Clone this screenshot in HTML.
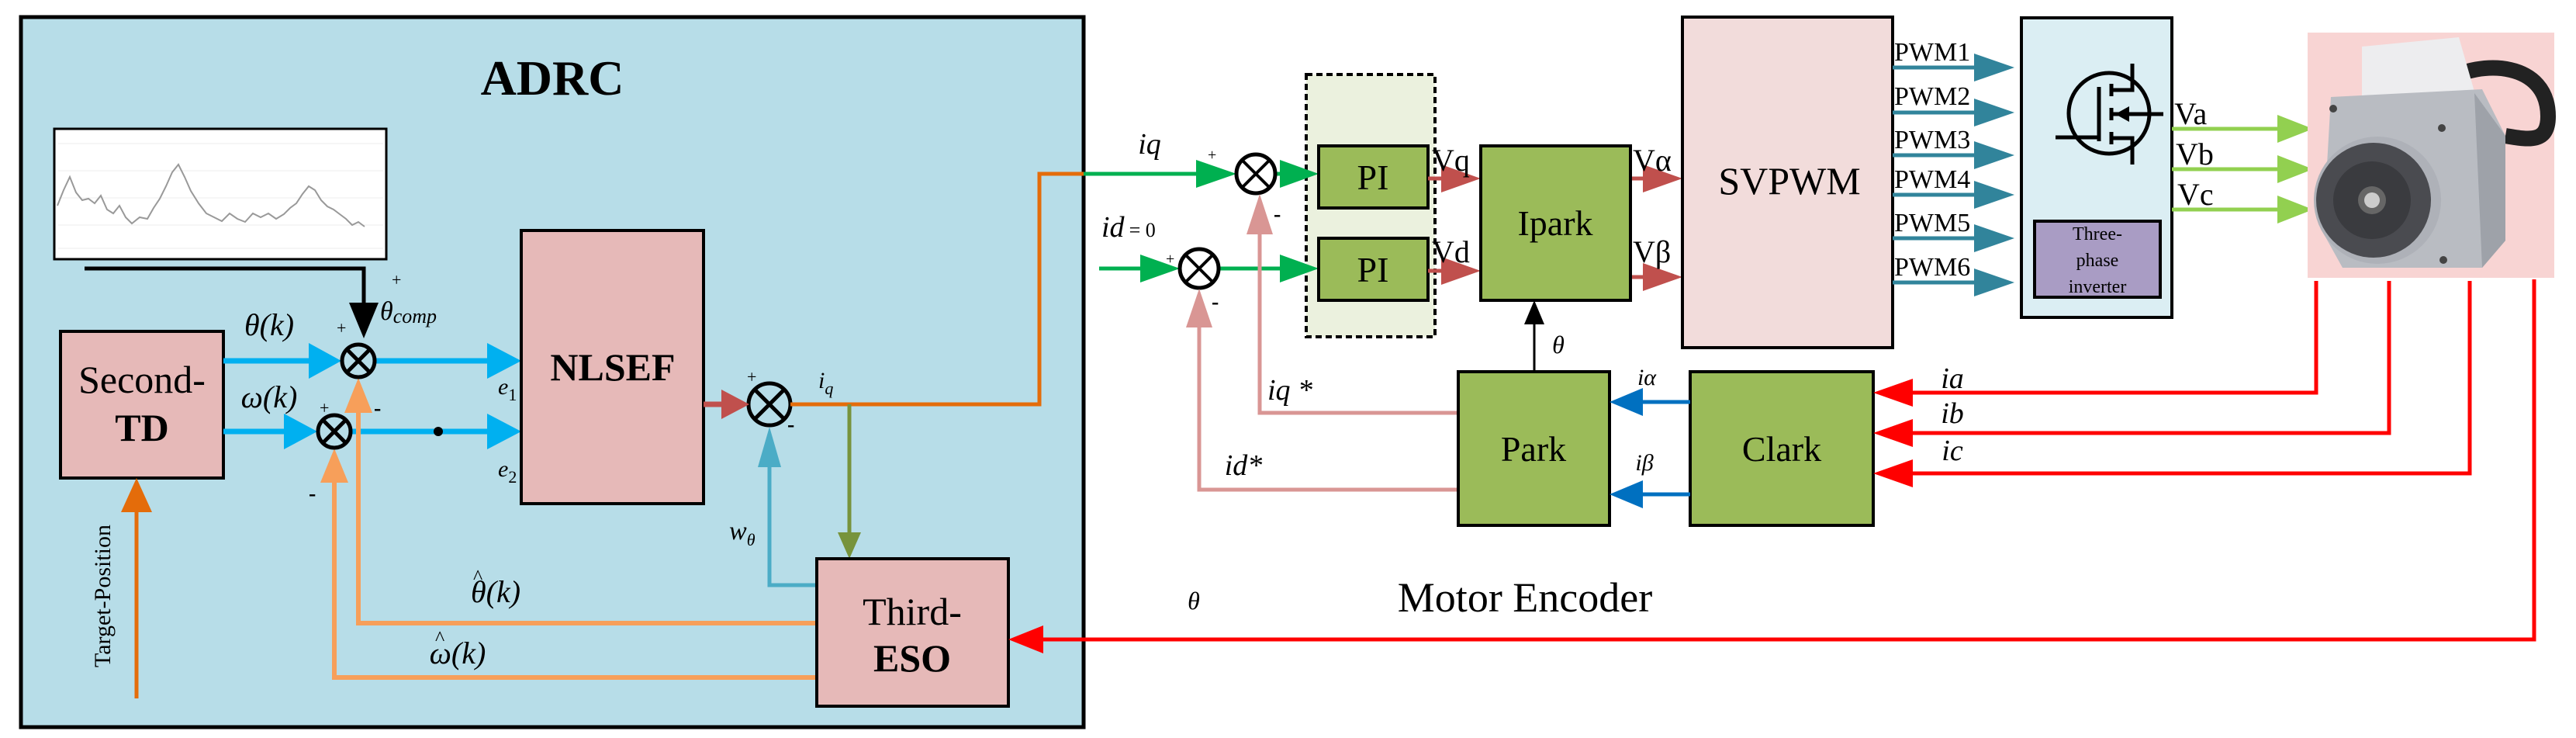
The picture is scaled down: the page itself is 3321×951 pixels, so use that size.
<!DOCTYPE html>
<html><head><meta charset="utf-8"><style>
html,body{margin:0;padding:0;background:#fff}
svg{display:block}
svg text{font-family:"Liberation Serif","DejaVu Serif","Times New Roman",Times,serif;fill:#000}
.i{font-style:italic}
</style></head><body>
<svg width="3321" height="951" viewBox="0 0 3321 951" xmlns="http://www.w3.org/2000/svg" style="font-family:'Liberation Serif','DejaVu Serif',serif">
<rect x="27" y="22" width="1370" height="915" fill="#b7dde8" stroke="#000" stroke-width="5"/>
<text x="712" y="122" font-size="64" font-weight="bold" text-anchor="middle">ADRC</text>
<rect x="70" y="166" width="428" height="168" fill="#fff" stroke="#000" stroke-width="3"/>
<g stroke="#eee" stroke-width="1">
<line x1="75" y1="185" x2="494" y2="185"/><line x1="75" y1="220" x2="494" y2="220"/><line x1="75" y1="255" x2="494" y2="255"/><line x1="75" y1="290" x2="494" y2="290"/><line x1="75" y1="320" x2="494" y2="320"/>
</g>
<polyline fill="none" stroke="#999" stroke-width="2" points="74,265 82,245 90,228 98,248 106,258 114,256 122,262 130,252 138,270 146,275 154,265 162,280 170,288 180,280 190,282 198,268 206,256 214,240 222,222 230,212 238,228 246,246 256,262 266,275 276,280 286,285 296,275 306,282 316,286 326,275 336,280 346,275 356,282 366,276 374,268 382,262 390,250 398,240 406,245 414,258 422,266 430,270 438,276 446,282 454,290 462,286 470,292"/>
<polyline points="109,346 469,346 469,392" fill="none" stroke="#000" stroke-width="5"/>
<polygon points="450,390 488,390 469,436" fill="#000"/>
<text x="505" y="368" font-size="22">+</text>
<text x="490" y="412" font-size="34" class="i">θ<tspan font-size="26" dy="4">comp</tspan></text>
<rect x="78" y="427" width="210" height="189" fill="#e6b9b8" stroke="#000" stroke-width="4"/>
<text x="183" y="506" font-size="50" text-anchor="middle">Second-</text>
<text x="183" y="568" font-size="50" font-weight="bold" text-anchor="middle">TD</text>
<line x1="176" y1="900" x2="176" y2="650" stroke="#e46c0a" stroke-width="5"/>
<polygon points="156,660 196,660 176,616" fill="#e46c0a"/>
<text transform="translate(142,768) rotate(-90)" font-size="30" text-anchor="middle">Target-Position</text>
<g stroke="#00b0f0" stroke-width="7" fill="none">
<line x1="288" y1="465" x2="405" y2="465"/>
<line x1="288" y1="556" x2="375" y2="556"/>
<line x1="484" y1="465" x2="630" y2="465"/>
<line x1="453" y1="556" x2="630" y2="556"/>
</g>
<g fill="#00b0f0">
<polygon points="398,442 440,465 398,488"/>
<polygon points="366,533 409,556 366,579"/>
<polygon points="628,442 672,465 628,488"/>
<polygon points="628,533 672,556 628,579"/>
</g>
<circle cx="565" cy="556" r="6" fill="#000"/>
<text x="347" y="432" font-size="40" class="i" text-anchor="middle">θ(k)</text>
<text x="347" y="525" font-size="40" class="i" text-anchor="middle">ω(k)</text>
<text x="642" y="508" font-size="30" class="i">e<tspan font-size="22" dy="8" font-style="normal">1</tspan></text>
<text x="642" y="614" font-size="30" class="i">e<tspan font-size="22" dy="8" font-style="normal">2</tspan></text>
<g stroke="#f79f5a" stroke-width="6" fill="none">
<polyline points="1053,803 462,803 462,520"/>
<polyline points="1053,873 431,873 431,610"/>
</g>
<g fill="#f79f5a">
<polygon points="444,532 480,532 462,487"/>
<polygon points="413,622 449,622 431,578"/>
</g>
<text x="639" y="776" font-size="40" class="i" text-anchor="middle">θ(k)</text>
<text x="610" y="752" font-size="26">^</text>
<text x="590" y="855" font-size="40" class="i" text-anchor="middle">ω(k)</text>
<text x="561" y="831" font-size="26">^</text>
<g stroke="#000" stroke-width="5" fill="none">
<circle cx="462" cy="465" r="21"/><line x1="447" y1="450" x2="477" y2="480"/><line x1="477" y1="450" x2="447" y2="480"/>
<circle cx="431" cy="556" r="21"/><line x1="416" y1="541" x2="446" y2="571"/><line x1="446" y1="541" x2="416" y2="571"/>
<circle cx="992" cy="521" r="27"/><line x1="973" y1="502" x2="1011" y2="540"/><line x1="1011" y1="502" x2="973" y2="540"/>
</g>
<text x="434" y="430" font-size="22">+</text>
<text x="412" y="533" font-size="22">+</text>
<text x="482" y="535" font-size="28" font-weight="bold">-</text>
<text x="398" y="645" font-size="28" font-weight="bold">-</text>
<text x="963" y="493" font-size="22">+</text>
<text x="1015" y="556" font-size="28" font-weight="bold">-</text>
<rect x="672" y="297" width="235" height="352" fill="#e6b9b8" stroke="#000" stroke-width="4"/>
<text x="790" y="490" font-size="50" font-weight="bold" text-anchor="middle">NLSEF</text>
<line x1="907" y1="521" x2="935" y2="521" stroke="#c0504d" stroke-width="7"/>
<polygon points="930,502 966,521 930,540" fill="#c0504d"/>
<text x="1055" y="500" font-size="30" class="i">i<tspan font-size="22" dy="8">q</tspan></text>
<polyline points="1019,521 1340,521 1340,224 1397,224" fill="none" stroke="#e46c0a" stroke-width="5"/>
<line x1="1095" y1="521" x2="1095" y2="690" stroke="#77933c" stroke-width="5"/>
<polygon points="1080,686 1110,686 1095,720" fill="#77933c"/>
<polyline points="1053,754 992,754 992,590" fill="none" stroke="#4bacc6" stroke-width="5"/>
<polygon points="977,602 1007,602 992,550" fill="#4bacc6"/>
<text x="940" y="695" font-size="34" class="i">w<tspan font-size="22" dy="8">θ</tspan></text>
<rect x="1053" y="720" width="247" height="190" fill="#e6b9b8" stroke="#000" stroke-width="4"/>
<text x="1176" y="805" font-size="50" text-anchor="middle">Third-</text>
<text x="1176" y="865" font-size="50" font-weight="bold" text-anchor="middle">ESO</text>
<polyline points="3267,360 3267,824 1340,824" fill="none" stroke="#ff0000" stroke-width="5"/>
<polygon points="1345,806 1345,842 1300,824" fill="#ff0000"/>
<text x="1539" y="785" font-size="32" class="i" text-anchor="middle">θ</text>
<text x="1966" y="788" font-size="54" text-anchor="middle">Motor Encoder</text>
<line x1="1397" y1="224" x2="1560" y2="224" stroke="#00b050" stroke-width="5"/>
<polygon points="1542,206 1542,242 1594,224" fill="#00b050"/>
<line x1="1417" y1="346" x2="1480" y2="346" stroke="#00b050" stroke-width="5"/>
<polygon points="1470,328 1470,364 1521,346" fill="#00b050"/>
<line x1="1571" y1="346" x2="1660" y2="346" stroke="#00b050" stroke-width="5"/>
<rect x="1684" y="96" width="166" height="338" fill="#ebf1de" stroke="#000" stroke-width="4" stroke-dasharray="8,5"/>
<line x1="1644" y1="224" x2="1660" y2="224" stroke="#00b050" stroke-width="5"/>
<polygon points="1650,206 1650,242 1700,224" fill="#00b050"/>
<polygon points="1650,328 1650,364 1700,346" fill="#00b050"/>
<g stroke="#000" stroke-width="5" fill="#fff">
<circle cx="1619" cy="224" r="25"/><circle cx="1546" cy="346" r="25"/>
</g>
<g stroke="#000" stroke-width="4">
<line x1="1602" y1="207" x2="1636" y2="241"/><line x1="1636" y1="207" x2="1602" y2="241"/>
<line x1="1529" y1="329" x2="1563" y2="363"/><line x1="1563" y1="329" x2="1529" y2="363"/>
</g>
<text x="1482" y="198" font-size="38" class="i" text-anchor="middle">iq</text>
<text x="1420" y="305" font-size="38" class="i">id<tspan font-size="26" font-style="normal" dx="6">= 0</tspan></text>
<text x="1557" y="206" font-size="20">+</text>
<text x="1503" y="340" font-size="20">+</text>
<text x="1642" y="285" font-size="28" font-weight="bold">-</text>
<text x="1562" y="398" font-size="28" font-weight="bold">-</text>
<rect x="1700" y="188" width="141" height="80" fill="#9bbb59" stroke="#000" stroke-width="4"/>
<rect x="1700" y="307" width="141" height="80" fill="#9bbb59" stroke="#000" stroke-width="4"/>
<text x="1770" y="244" font-size="46" text-anchor="middle">PI</text>
<text x="1770" y="363" font-size="46" text-anchor="middle">PI</text>
<g stroke="#d99694" stroke-width="5" fill="none">
<polyline points="1880,532 1624,532 1624,290"/>
<polyline points="1880,631 1546,631 1546,410"/>
</g>
<polygon points="1607,302 1641,302 1624,250" fill="#d99694"/>
<polygon points="1529,422 1563,422 1546,372" fill="#d99694"/>
<text x="1663" y="515" font-size="38" class="i" text-anchor="middle">iq *</text>
<text x="1603" y="612" font-size="38" class="i" text-anchor="middle">id*</text>
<g stroke="#c0504d" stroke-width="5"><line x1="1841" y1="230" x2="1870" y2="230"/><line x1="1841" y1="349" x2="1870" y2="349"/><line x1="2102" y1="230" x2="2125" y2="230"/><line x1="2102" y1="357" x2="2125" y2="357"/></g>
<g fill="#c0504d">
<polygon points="1858,212 1909,230 1858,248"/>
<polygon points="1858,331 1909,349 1858,367"/>
<polygon points="2118,212 2169,230 2118,248"/>
<polygon points="2118,339 2169,357 2118,375"/>
</g>
<text x="1846" y="220" font-size="40">Vq</text>
<text x="1846" y="338" font-size="40">Vd</text>
<text x="2105" y="220" font-size="40">Vα</text>
<text x="2105" y="338" font-size="40">Vβ</text>
<rect x="1909" y="188" width="193" height="199" fill="#9bbb59" stroke="#000" stroke-width="4"/>
<text x="2005" y="303" font-size="46" text-anchor="middle">Ipark</text>
<line x1="1978" y1="479" x2="1978" y2="415" stroke="#000" stroke-width="3"/>
<polygon points="1965,418 1991,418 1978,387" fill="#000"/>
<text x="2009" y="455" font-size="32" class="i" text-anchor="middle">θ</text>
<rect x="1880" y="479" width="195" height="198" fill="#9bbb59" stroke="#000" stroke-width="4"/>
<text x="1977" y="594" font-size="46" text-anchor="middle">Park</text>
<rect x="2179" y="479" width="236" height="198" fill="#9bbb59" stroke="#000" stroke-width="4"/>
<text x="2297" y="594" font-size="46" text-anchor="middle">Clark</text>
<g stroke="#0070c0" stroke-width="5"><line x1="2179" y1="518" x2="2110" y2="518"/><line x1="2179" y1="637" x2="2110" y2="637"/></g>
<polygon points="2118,500 2118,536 2075,518" fill="#0070c0"/>
<polygon points="2118,619 2118,655 2075,637" fill="#0070c0"/>
<text x="2123" y="496" font-size="30" class="i" text-anchor="middle">iα</text>
<text x="2120" y="606" font-size="30" class="i" text-anchor="middle">iβ</text>
<g stroke="#ff0000" stroke-width="5" fill="none">
<polyline points="2986,362 2986,506 2450,506"/>
<polyline points="3080,362 3080,558 2450,558"/>
<polyline points="3184,362 3184,610 2450,610"/>
</g>
<g fill="#ff0000">
<polygon points="2466,488 2466,524 2415,506"/>
<polygon points="2466,540 2466,576 2415,558"/>
<polygon points="2466,592 2466,628 2415,610"/>
</g>
<text x="2517" y="500" font-size="38" class="i" text-anchor="middle">ia</text>
<text x="2517" y="545" font-size="38" class="i" text-anchor="middle">ib</text>
<text x="2517" y="593" font-size="38" class="i" text-anchor="middle">ic</text>
<rect x="2169" y="22" width="271" height="426" fill="#f2dcdb" stroke="#000" stroke-width="4"/>
<text x="2307" y="250" font-size="50" text-anchor="middle">SVPWM</text>
<g stroke="#31849b" stroke-width="5">
<line x1="2440" y1="87" x2="2560" y2="87"/><line x1="2440" y1="145" x2="2560" y2="145"/><line x1="2440" y1="200" x2="2560" y2="200"/><line x1="2440" y1="251" x2="2560" y2="251"/><line x1="2440" y1="307" x2="2560" y2="307"/><line x1="2440" y1="364" x2="2560" y2="364"/>
</g>
<g fill="#31849b">
<polygon points="2545,69 2597,87 2545,105"/><polygon points="2545,127 2597,145 2545,163"/><polygon points="2545,182 2597,200 2545,218"/><polygon points="2545,233 2597,251 2545,269"/><polygon points="2545,289 2597,307 2545,325"/><polygon points="2545,346 2597,364 2545,382"/>
</g>
<g font-size="34"><text x="2442" y="78">PWM1</text><text x="2442" y="135">PWM2</text><text x="2442" y="191">PWM3</text><text x="2442" y="242">PWM4</text><text x="2442" y="298">PWM5</text><text x="2442" y="355">PWM6</text></g>
<rect x="2606" y="23" width="194" height="386" fill="#dbeef3" stroke="#000" stroke-width="4"/>
<g stroke="#000" stroke-width="5" fill="none">
<circle cx="2719" cy="146" r="52"/>
<line x1="2650" y1="177" x2="2706" y2="177"/>
<line x1="2706" y1="112" x2="2706" y2="182"/>
<line x1="2722" y1="108" x2="2722" y2="124"/><line x1="2722" y1="139" x2="2722" y2="155"/><line x1="2722" y1="170" x2="2722" y2="186"/>
<polyline points="2722,116 2749,116 2749,82"/>
<polyline points="2722,178 2749,178 2749,212"/>
<line x1="2722" y1="147" x2="2789" y2="147"/>
</g>
<polygon points="2727,147 2745,137 2745,157" fill="#000"/>
<rect x="2623" y="285" width="162" height="98" fill="#a99cc4" stroke="#000" stroke-width="4"/>
<text x="2704" y="309" font-size="24" text-anchor="middle">Three-</text>
<text x="2704" y="343" font-size="24" text-anchor="middle">phase</text>
<text x="2704" y="377" font-size="24" text-anchor="middle">inverter</text>
<g stroke="#92d050" stroke-width="5"><line x1="2800" y1="166" x2="2945" y2="166"/><line x1="2800" y1="218" x2="2945" y2="218"/><line x1="2800" y1="270" x2="2945" y2="270"/></g>
<g fill="#92d050"><polygon points="2936,148 2982,166 2936,184"/><polygon points="2936,200 2982,218 2936,236"/><polygon points="2936,252 2982,270 2936,288"/></g>
<text x="2803" y="160" font-size="40">Va</text>
<text x="2805" y="212" font-size="40">Vb</text>
<text x="2807" y="264" font-size="40">Vc</text>
<rect x="2975" y="42" width="318" height="316" fill="#f8d4d3"/>
<path d="M3150,105 C3200,75 3285,80 3285,150 C3285,185 3260,180 3230,175" fill="none" stroke="#222" stroke-width="20"/>
<polygon points="3045,60 3170,48 3190,118 3045,128" fill="#ededef"/>
<polygon points="3005,125 3200,115 3230,175 3230,310 3200,345 3020,345 2995,300" fill="#b9bcc2"/>
<polygon points="3190,120 3230,175 3230,310 3200,345" fill="#9ea2a9"/>
<circle cx="3065" cy="258" r="82" fill="#aeb1b8"/>
<circle cx="3060" cy="258" r="74" fill="#4a4b50"/>
<circle cx="3058" cy="258" r="50" fill="#3a3b3f"/>
<circle cx="3058" cy="258" r="18" fill="#666"/>
<circle cx="3058" cy="258" r="10" fill="#ccc"/>
<circle cx="3008" cy="140" r="5" fill="#444"/><circle cx="3148" cy="165" r="5" fill="#444"/><circle cx="3150" cy="335" r="5" fill="#444"/>
</svg>
</body></html>
